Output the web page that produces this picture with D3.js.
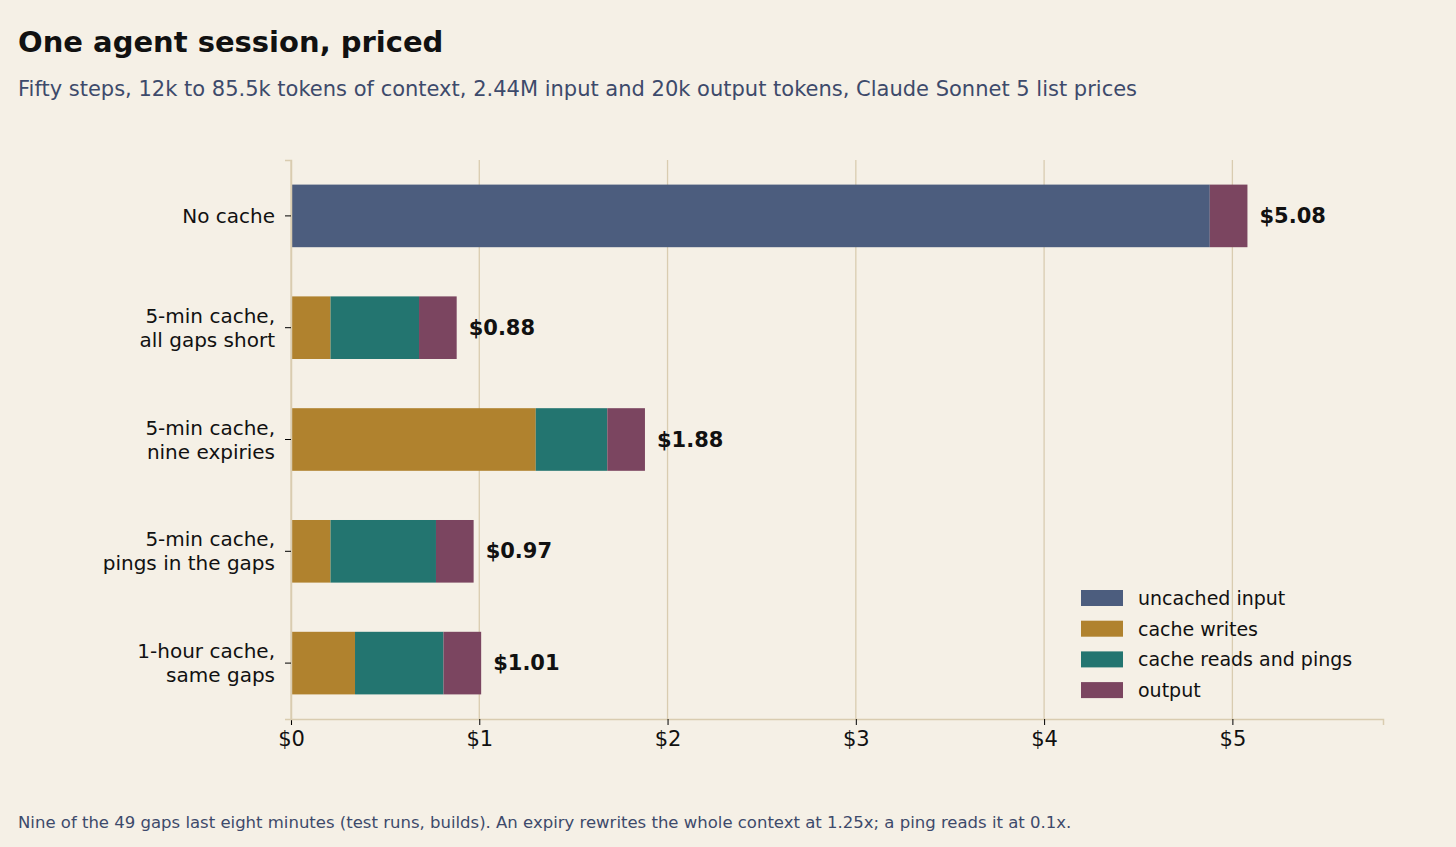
<!DOCTYPE html><html><head><meta charset="utf-8">
<script src="https://cdn.jsdelivr.net/npm/d3@7"></script>
<style>body{margin:0;background:#f5f0e6;font-family:"DejaVu Sans",sans-serif}</style></head><body>
<svg id="c" width="1456" height="847"></svg>
<script>
const categories=[["No cache"],["5-min cache,","all gaps short"],["5-min cache,","nine expiries"],["5-min cache,","pings in the gaps"],["1-hour cache,","same gaps"]];
const seriesNames=["uncached input","cache writes","cache reads and pings","output"];
const uncached=[4.88,0,0,0,0];
const writes=[0,0.21,1.30,0.21,0.34];
const reads=[0,0.47,0.38,0.56,0.47];
const output=[0.20,0.20,0.20,0.20,0.20];
const totals=["$5.08","$0.88","$1.88","$0.97","$1.01"];
const ticks=[0,1,2,3,4,5];
const colors=["#4c5d7e","#b0822e","#237570","#7b4560"];
const svg=d3.select("#c");
svg.append("rect").attr("width",1456).attr("height",847).attr("fill","#f5f0e6");
const x=d3.scaleLinear().domain([0,5.8]).range([291,1383]);
const y=d3.scaleBand().domain(d3.range(5)).range([160,719]).paddingInner(0.44).paddingOuter(0.22);
svg.append("g").selectAll("line").data(ticks).join("line").attr("x1",d=>x(d)).attr("x2",d=>x(d)).attr("y1",160).attr("y2",719).attr("stroke","#d9ccb0").attr("stroke-width",1.3);
const vals=[uncached,writes,reads,output];
categories.forEach((c,i)=>{let acc=0;vals.forEach((s,k)=>{if(s[i]>0){svg.append("rect").attr("x",x(acc)).attr("y",y(i)).attr("width",x(acc+s[i])-x(acc)).attr("height",y.bandwidth()).attr("fill",colors[k]);}acc+=s[i];});
svg.append("text").attr("x",x(acc)+12).attr("y",y(i)+y.bandwidth()/2+7).attr("font-size",21).attr("font-weight","bold").attr("fill","#111").text(totals[i]);});
const ax=svg.append("g").attr("transform","translate(0,719)").call(d3.axisBottom(x).tickValues(ticks).tickFormat(d=>"$"+d).tickSize(6).tickPadding(6));
ax.select(".domain").attr("stroke","#d9ccb0").attr("stroke-width",1.5);
ax.selectAll("text").attr("font-size",21).attr("fill","#111").attr("font-family","DejaVu Sans");
const ay=svg.append("g").attr("transform","translate(291,0)").call(d3.axisLeft(y).tickSize(6).tickFormat(""));
ay.select(".domain").attr("stroke","#d9ccb0").attr("stroke-width",1.5);
categories.forEach((c,i)=>{const cy=y(i)+y.bandwidth()/2;const t=svg.append("text").attr("text-anchor","end").attr("font-size",20).attr("fill","#111");
c.forEach((l,j)=>t.append("tspan").attr("x",275).attr("y",cy+7+(j-(c.length-1)/2)*24).text(l));});
seriesNames.forEach((n,k)=>{const ly=598+k*30.7;svg.append("rect").attr("x",1081).attr("y",ly-8).attr("width",42).attr("height",16).attr("fill",colors[k]);
svg.append("text").attr("x",1138).attr("y",ly+7).attr("font-size",19).attr("fill","#111").text(n);});
svg.append("text").attr("x",18).attr("y",52).attr("font-size",29).attr("font-weight","bold").attr("fill","#111").text("One agent session, priced");
svg.append("text").attr("x",18).attr("y",96).attr("font-size",21).attr("fill","#3d4a6b").text("Fifty steps, 12k to 85.5k tokens of context, 2.44M input and 20k output tokens, Claude Sonnet 5 list prices");
svg.append("text").attr("x",18).attr("y",828).attr("font-size",16.5).attr("fill","#3d4a6b").text("Nine of the 49 gaps last eight minutes (test runs, builds). An expiry rewrites the whole context at 1.25x; a ping reads it at 0.1x.");
</script></body></html>
